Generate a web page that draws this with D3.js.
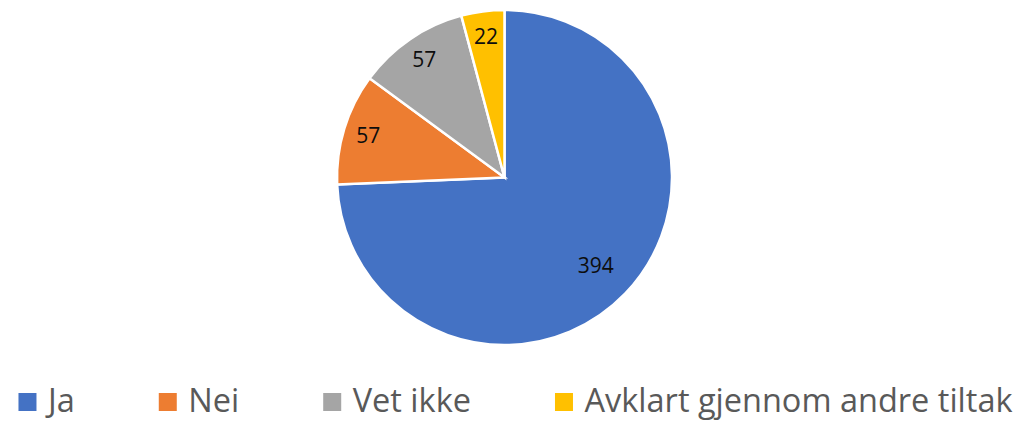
<!DOCTYPE html>
<html lang="no">
<head>
<meta charset="utf-8">
<title>Pie</title>
<script src="https://d3js.org/d3.v7.min.js"></script>
<style>
  body { margin: 0; background: white; }
  text { font-family: 'Open Sans', sans-serif; }
  .slice { stroke: white; stroke-width: 2.5px; }
  .lbl { font-size: 21px; fill: #0d0d0d; }
  .leg { font-size: 32.5px; fill: #595959; }
</style>
</head>
<body>
<div id="container"></div>
<script>
var categories = ["Ja", "Nei", "Vet ikke", "Avklart gjennom andre tiltak"];
var values = [394, 57, 57, 22];
var colors = ["#4472C4", "#ED7D31", "#A5A5A5", "#FFC000"];

var w = 1027, h = 421;
var cx = 504.5, cy = 177.5, r = 167.5;

var svg = d3.select("div#container")
  .append("svg")
  .attr("width", w)
  .attr("height", h);

var data = categories.map(function(c, i) { return { name: c, value: values[i] }; });

var pie = d3.pie()
  .sort(null)
  .value(function(d) { return d.value; });

var arcs = pie(data);

var arc = d3.arc().innerRadius(0).outerRadius(r);

var g = svg.append("g").attr("transform", "translate(" + cx + "," + cy + ")");

g.selectAll("path")
  .data(arcs)
  .enter()
  .append("path")
  .attr("class", "slice")
  .attr("fill", function(d, i) { return colors[i]; })
  .attr("d", arc);

// labels: big slice near the middle, small slices pushed toward the rim
g.selectAll("text.lbl")
  .data(arcs)
  .enter()
  .append("text")
  .attr("class", "lbl")
  .attr("text-anchor", "middle")
  .attr("dy", "0.36em")
  .attr("transform", function(d) {
    var k = (d.endAngle - d.startAngle) > Math.PI / 2 ? 0.755 : 0.85;
    var a = (d.startAngle + d.endAngle) / 2;
    return "translate(" + (Math.sin(a) * r * k) + "," + (-Math.cos(a) * r * k) + ")";
  })
  .text(function(d) { return d.data.value; });

// legend
var sq = 18, gapText = 11.5, gapItem = 84, legY = 402;
var leg = svg.append("g");
var items = leg.selectAll("g")
  .data(data)
  .enter()
  .append("g");

items.append("rect")
  .attr("width", sq)
  .attr("height", sq)
  .attr("y", legY - sq / 2)
  .attr("fill", function(d, i) { return colors[i]; });

items.append("text")
  .attr("class", "leg")
  .attr("x", sq + gapText)
  .attr("y", legY + 9.5)
  .text(function(d) { return d.name; });

var xpos = 0;
items.each(function() {
  var el = d3.select(this);
  el.attr("transform", "translate(" + xpos + ",0)");
  var tw = el.select("text").node().getComputedTextLength();
  xpos += sq + gapText + tw + gapItem;
});
var total = xpos - gapItem;
leg.attr("transform", "translate(" + (515.5 - total / 2) + ",0)");
</script>
</body>
</html>
